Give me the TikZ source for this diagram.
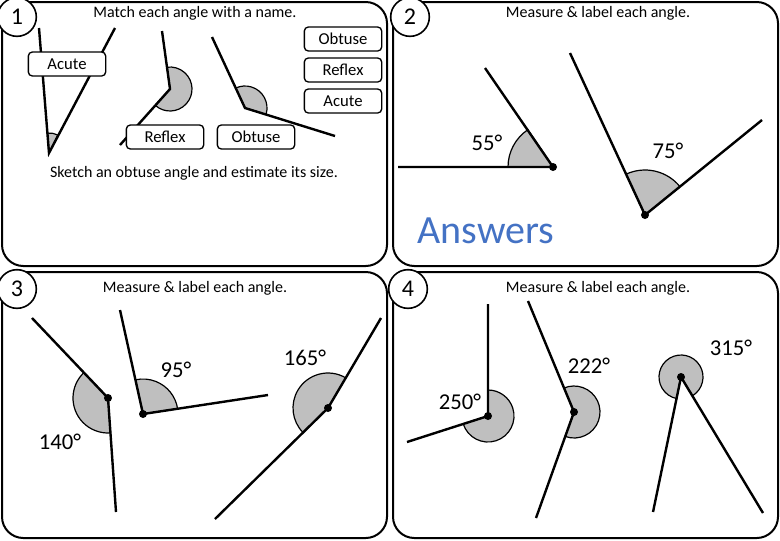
\documentclass[tikz,border=0pt]{standalone}
\usepackage{fontspec}
\setmainfont{Carlito}
\begin{document}
\begin{tikzpicture}[x=0.75pt,y=0.75pt,
  panel/.style={draw,line width=1.5pt,rounded corners=16pt},
  num/.style={draw,circle,line width=1.2pt,minimum size=29pt,inner sep=0pt,font=\fontsize{18}{18}\selectfont,fill=white},
  title/.style={font=\fontsize{12}{14}\selectfont},
  lbl/.style={draw,fill=white,rounded corners=3pt,line width=1pt,minimum width=58pt,minimum height=18pt,inner sep=0pt,font=\fontsize{12.5}{13}\selectfont},
  ray/.style={line width=1.8pt},
  sect/.style={fill=black!25,draw=black,line width=0.9pt},
  deg/.style={font=\fontsize{17}{18}\selectfont},
  dot/.style={circle,fill=black,inner sep=0pt,minimum size=6pt}]
\useasboundingbox (0,0) rectangle (780,-540);
% panels
\draw[panel] (2,-2) rectangle (387,-266);
\draw[panel] (393,-2) rectangle (778,-266);
\draw[panel] (2,-272) rectangle (387,-538);
\draw[panel] (393,-272) rectangle (778,-538);
\node[num] (n1) at (17,-17) {1};
\node[num] (n2) at (410,-17) {2};
\node[num] (n3) at (17,-289) {3};
\node[num] (n4) at (408,-289) {4};
% panel 1
\node[title] (t1) at (195,-13) {Match each angle with a name.};
\node[title] (t1b) at (194,-173) {Sketch an obtuse angle and estimate its size.};
\coordinate (a1) at (49,-153); \coordinate (a1p) at (39,-28); \coordinate (a1q) at (115,-28);
\filldraw[sect] (a1) -- ++(64:20) arc (64:94.5:20) -- cycle;
\draw[ray] (a1p) -- (a1) -- (a1q);
\coordinate (r1) at (170,-89); \coordinate (r1p) at (162,-31); \coordinate (r1q) at (120,-145);
\filldraw[sect] (r1) -- ++(228:22) arc (228:458:22) -- cycle;
\draw[ray] (r1p) -- (r1) -- (r1q);
\coordinate (o1) at (245,-108); \coordinate (o1p) at (212,-37); \coordinate (o1q) at (335,-136);
\filldraw[sect] (o1) -- ++(-17:22) arc (-17:115:22) -- cycle;
\draw[ray] (o1p) -- (o1) -- (o1q);
\node[lbl] (bA) at (67,-64) {Acute};
\node[lbl] (bR) at (165,-137) {Reflex};
\node[lbl] (bO) at (256,-137) {Obtuse};
\node[lbl] (bO2) at (343,-39) {Obtuse};
\node[lbl] (bR2) at (343,-70) {Reflex};
\node[lbl] (bA2) at (343,-101) {Acute};
% panel 2
\node[title] (t2) at (598,-13) {Measure \& label each angle.};
\coordinate (v55) at (553,-167); \coordinate (v55p) at (398,-167); \coordinate (v55q) at (485,-68);
\filldraw[sect] (v55) -- ++(124:45) arc (124:180:45) -- cycle;
\draw[ray] (v55p) -- (v55) -- (v55q);
\node[dot] (d55) at (v55) {};
\node[deg] (l55) at (487,-143) {55°};
\coordinate (v75) at (645,-215); \coordinate (v75p) at (570,-53); \coordinate (v75q) at (762,-120);
\filldraw[sect] (v75) -- ++(39:45) arc (39:115:45) -- cycle;
\draw[ray] (v75p) -- (v75) -- (v75q);
\node[dot] (d75) at (v75) {};
\node[deg] (l75) at (668,-151) {75°};
\node[font=\fontsize{30}{32}\selectfont,color={rgb,255:red,68;green,114;blue,196}] (ans) at (486,-231) {Answers};
% panel 3
\node[title] (t3) at (195,-288) {Measure \& label each angle.};
\coordinate (v140) at (108,-398); \coordinate (v140p) at (32,-318); \coordinate (v140q) at (116,-512);
\filldraw[sect] (v140) -- ++(133.5:35) arc (133.5:274:35) -- cycle;
\draw[ray] (v140p) -- (v140) -- (v140q);
\node[dot] (d140) at (v140) {};
\node[deg] (l140) at (60,-442) {140°};
\coordinate (v95) at (143,-414); \coordinate (v95p) at (120,-310); \coordinate (v95q) at (268,-395);
\filldraw[sect] (v95) -- ++(8.6:35) arc (8.6:102.5:35) -- cycle;
\draw[ray] (v95p) -- (v95) -- (v95q);
\node[dot] (d95) at (v95) {};
\node[deg] (l95) at (176,-370) {95°};
\coordinate (v165) at (328,-408); \coordinate (v165p) at (381,-318); \coordinate (v165q) at (215,-519);
\filldraw[sect] (v165) -- ++(59.5:35) arc (59.5:224.5:35) -- cycle;
\draw[ray] (v165p) -- (v165) -- (v165q);
\node[dot] (d165) at (v165) {};
\node[deg] (l165) at (305,-358) {165°};
% panel 4
\node[title] (t4) at (598,-288) {Measure \& label each angle.};
\coordinate (v250) at (488,-416); \coordinate (v250p) at (488,-304); \coordinate (v250q) at (407,-442);
\filldraw[sect] (v250) -- ++(197.8:26) arc (197.8:450:26) -- cycle;
\draw[ray] (v250p) -- (v250) -- (v250q);
\node[dot] (d250) at (v250) {};
\node[deg] (l250) at (460,-402) {250°};
\coordinate (v222) at (574,-412); \coordinate (v222p) at (528,-301); \coordinate (v222q) at (536,-518);
\filldraw[sect] (v222) -- ++(250.3:26) arc (250.3:472.5:26) -- cycle;
\draw[ray] (v222p) -- (v222) -- (v222q);
\node[dot] (d222) at (v222) {};
\node[deg] (l222) at (589,-366) {222°};
\coordinate (v315) at (681,-377); \coordinate (v315p) at (653,-512); \coordinate (v315q) at (763,-513);
\filldraw[sect] (v315) -- ++(301:22) arc (301:618.3:22) -- cycle;
\draw[ray] (v315p) -- (v315) -- (v315q);
\node[dot] (d315) at (v315) {};
\node[deg] (l315) at (731,-348) {315°};
\end{tikzpicture}
\end{document}
